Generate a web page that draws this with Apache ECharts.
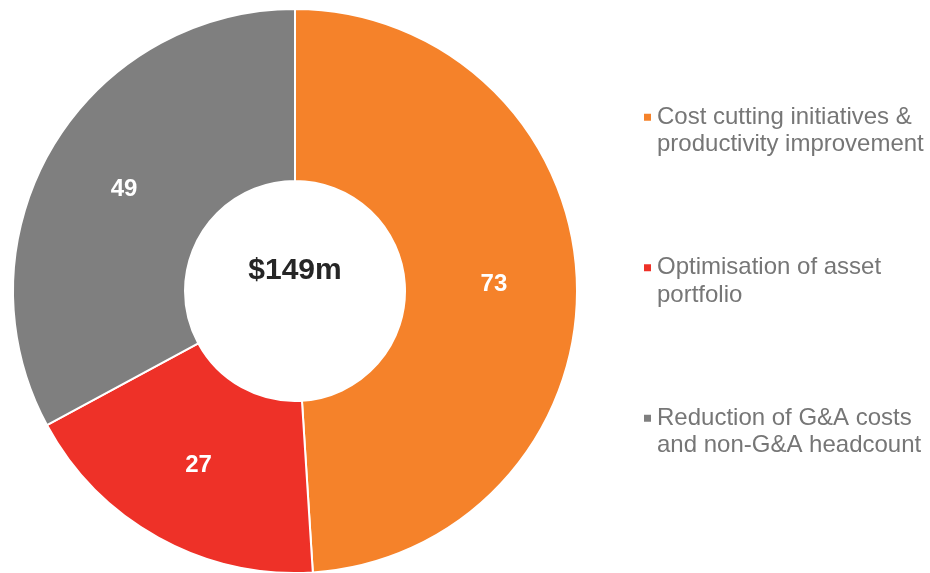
<!DOCTYPE html>
<html>
<head>
<meta charset="utf-8">
<script src="https://cdn.jsdelivr.net/npm/echarts@6/dist/echarts.min.js"></script>
<style>
    html, body { margin: 0; padding: 0; background: #fff; }
    #main { width: 930px; height: 573px; }
</style>
</head>
<body>
<div id="main"></div>
<script>
var categories = [
    'Cost cutting initiatives &\nproductivity improvement',
    'Optimisation of asset\nportfolio',
    'Reduction of G&A costs\nand non-G&A headcount'
];
var values = [73, 27, 49];
var colors = ['#f5822a', '#ee3128', '#7f7f7f'];
var totalLabel = '$149m';

var chart = echarts.init(document.getElementById('main'));

var data = [];
for (var i = 0; i < categories.length; i++) {
    data.push({ name: categories[i], value: values[i], itemStyle: { color: colors[i] } });
}

var option = {
    animation: false,
    legend: {
        orient: 'vertical',
        left: 642,
        top: 76,
        padding: 0,
        itemWidth: 9,
        itemHeight: 9,
        itemGap: 68,
        icon: 'rect',
        selectedMode: false,
        // leading blank line keeps the square level with the first text line
        formatter: function (name) { return '\n' + name; },
        textStyle: {
            color: '#767676',
            fontFamily: 'Liberation Sans, Arial, sans-serif',
            fontSize: 24,
            lineHeight: 27.5
        },
        data: categories
    },
    graphic: [{
        type: 'text',
        style: {
            text: totalLabel,
            x: 295,
            y: 271,
            textAlign: 'center',
            textVerticalAlign: 'middle',
            fill: '#262626',
            font: 'bold 30px "Liberation Sans", Arial, sans-serif'
        }
    }],
    series: [{
        type: 'pie',
        center: [295, 291],
        radius: [110, 282],
        startAngle: 90,
        clockwise: true,
        itemStyle: {
            borderColor: '#ffffff',
            borderWidth: 2
        },
        label: {
            show: true,
            position: 'inside',
            formatter: '{c}',
            color: '#ffffff',
            fontFamily: 'Liberation Sans, Arial, sans-serif',
            fontWeight: 'bold',
            fontSize: 24
        },
        labelLine: { show: false },
        emphasis: { disabled: true },
        data: data
    }]
};

chart.setOption(option);
</script>
</body>
</html>
